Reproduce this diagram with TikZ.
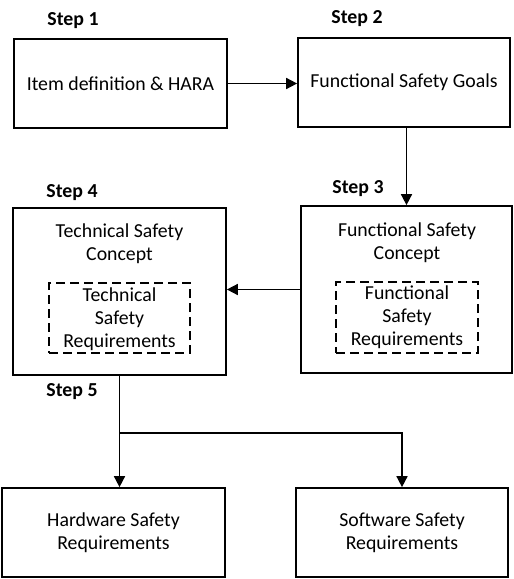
\documentclass[tikz,border=0pt]{standalone}
\usepackage{fontspec}
\setmainfont{Carlito}
\usetikzlibrary{arrows.meta}
\begin{document}
\begin{tikzpicture}[x=1bp,y=-1bp,
  box/.style={draw,line width=1.7bp,inner sep=0pt,align=center},
  dbox/.style={draw,line width=1.6bp,inner sep=0pt,align=center,dash pattern=on 9bp off 5bp},
  txt/.style={inner sep=0pt,align=center},
  steplabel/.style={inner sep=0pt,font=\bfseries},
  conn/.style={line width=1.6bp,-{Triangle[length=11bp,width=11bp]}},
  plain/.style={line width=1.6bp}]
\useasboundingbox (0,0) rectangle (514,579);
\fontsize{19.8bp}{23bp}\selectfont
\node[box,minimum width=213bp,minimum height=89bp] (b1) at (120.5,83.5) {Item definition \& HARA};
\node[box,minimum width=212bp,minimum height=89bp] (b2) at (404,82.5) {Functional Safety Goals};
\node[box,minimum width=211bp,minimum height=167bp] (b3) at (406.5,289.5) {};
\node[box,minimum width=213bp,minimum height=167bp] (b4) at (119.5,291.5) {};
\node[txt] (t3) at (407,242.5) {Functional Safety\\Concept};
\node[txt] (t4) at (119.5,243.5) {Technical Safety\\Concept};
\node[dbox,minimum width=142bp,minimum height=71bp] (d3) at (407,317.5) {};
\node[dbox,minimum width=141bp,minimum height=70bp] (d4) at (119.5,318) {};
\node[txt] (dt3) at (407,317) {Functional\\Safety\\Requirements};
\node[txt] (dt4) at (119.5,319) {Technical\\Safety\\Requirements};
\node[box,minimum width=223bp,minimum height=89bp] (hw) at (113.5,532.5) {Hardware Safety\\Requirements};
\node[box,minimum width=212bp,minimum height=89bp] (sw) at (402,532.5) {Software Safety\\Requirements};
\node[steplabel] (s1) at (73,21) {Step 1};
\node[steplabel] (s2) at (357,19) {Step 2};
\node[steplabel] (s3) at (358,189) {Step 3};
\node[steplabel] (s4) at (72,193) {Step 4};
\node[steplabel] (s5) at (72,392) {Step 5};
\coordinate (br) at (119,433);
\draw[conn] (b1.east) -- (b1.east -| b2.west);
\draw[conn] (b3.north |- b2.south) -- (b3.north);
\draw[conn] (b3.west) -- (b3.west -| b4.east);
\draw[conn] (b4.south) -- (b4.south |- hw.north);
\draw[conn] (br) -- (br -| sw.north) -- (sw.north);
\end{tikzpicture}
\end{document}
